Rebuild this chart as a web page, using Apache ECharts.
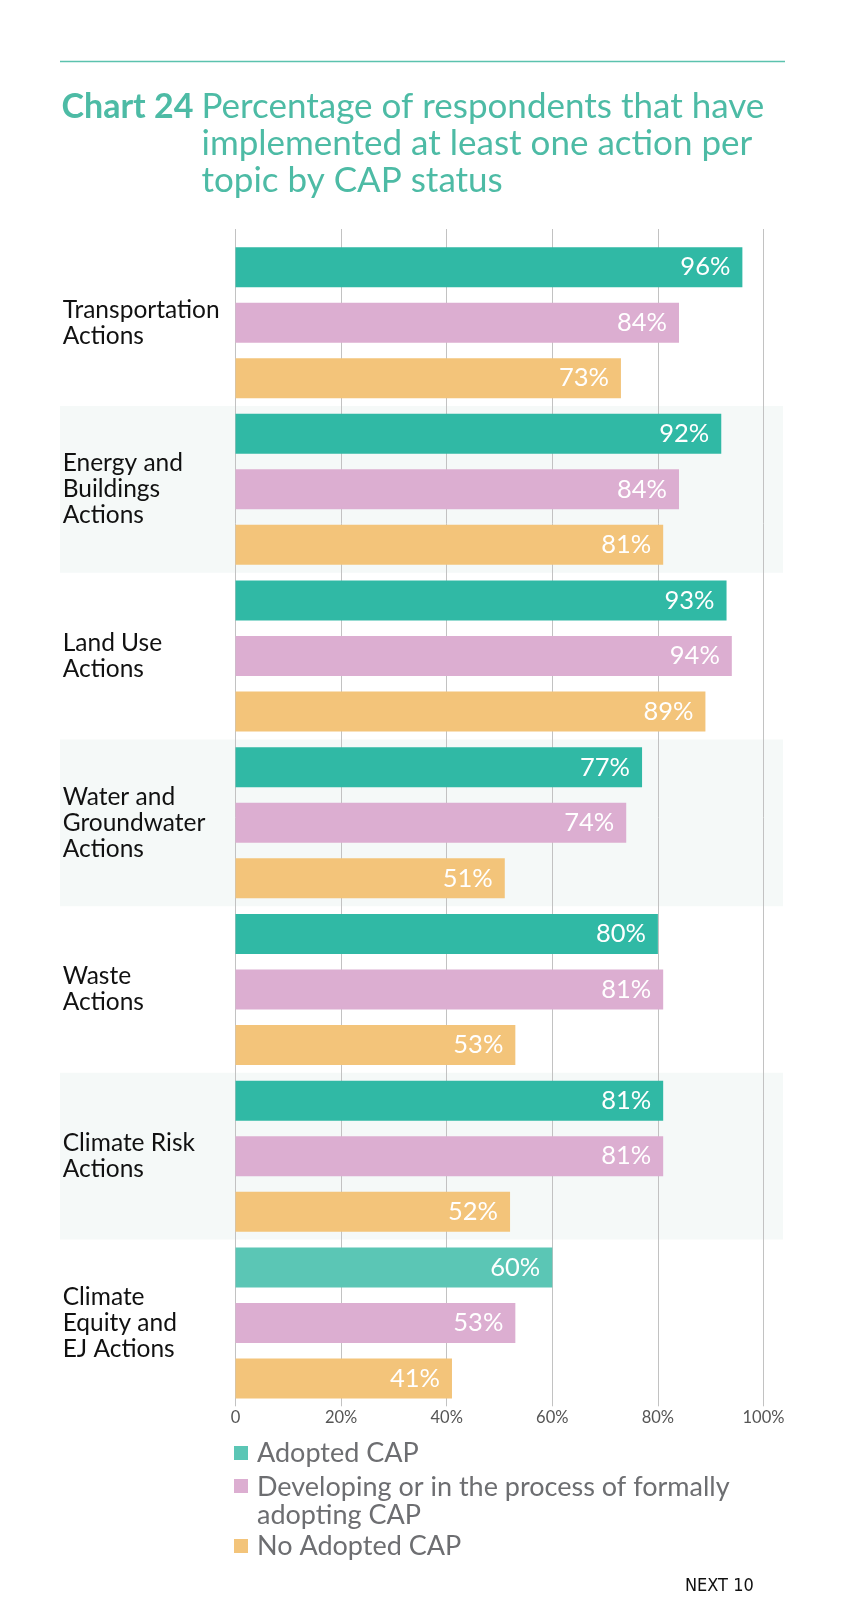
<!DOCTYPE html>
<html>
<head>
<meta charset="utf-8">
<script src="https://cdn.jsdelivr.net/npm/echarts@6/dist/echarts.min.js"></script>
<style>
html,body{margin:0;padding:0;background:#fff;}
#main{width:848px;height:1617px;}
</style>
</head>
<body>
<div id="main"></div>
<script>
// ---- data ----
const categories = [
  'Transportation\nActions',
  'Energy and\nBuildings\nActions',
  'Land Use\nActions',
  'Water and\nGroundwater\nActions',
  'Waste\nActions',
  'Climate Risk\nActions',
  'Climate\nEquity and\nEJ Actions'
];
const seriesNames = ['Adopted CAP', 'Developing or in the process of formally adopting CAP', 'No Adopted CAP'];
const legendLabels = ['Adopted CAP', 'Developing or in the process of formally\nadopting CAP', 'No Adopted CAP'];
const adoptedCAP = [96, 92, 93, 77, 80, 81, 60];
const developingCAP = [84, 84, 94, 74, 81, 81, 53];
const noAdoptedCAP = [73, 81, 89, 51, 53, 52, 41];
const xTickValues = [0, 20, 40, 60, 80, 100];
const titleLead = 'Chart 24';
const titleText = 'Percentage of respondents that have\nimplemented at least one action per\ntopic by CAP status';
const footer = 'NEXT 10';

// ---- styles ----
const colors = ['#30b9a5', '#dcaed1', '#f3c47a'];
const legendColors = ['#5bc6b5', '#dcaed1', '#f3c47a'];
const FONT = 'Lato, "Noto Sans", sans-serif';
const GL = 235.5, GW = 528, GT = 239.3, GH = 1167;

const chart = echarts.init(document.getElementById('main'), null, {renderer: 'canvas'});

function barData(vals, si) {
  return vals.map((v, i) => {
    // last teal bar drawn in lighter tint, as in the reference
    if (si === 0 && i === vals.length - 1) return {value: v, itemStyle: {color: legendColors[0]}};
    return v;
  });
}

const seriesVals = [adoptedCAP, developingCAP, noAdoptedCAP];

const option = {
  animation: false,
  backgroundColor: '#ffffff',
  grid: [
    {left: GL, top: GT, width: GW, height: GH, containLabel: false},
    {left: GL, top: 229, width: GW, height: GT + GH - 229, containLabel: false}
  ],
  xAxis: [
    {gridIndex: 0, type: 'value', min: 0, max: 100, interval: 20, show: false},
    {
      gridIndex: 1, type: 'value', min: 0, max: 100, interval: 20,
      axisLine: {show: false}, axisTick: {show: false},
      splitLine: {show: true, lineStyle: {color: '#c2c2c2', width: 1}},
      axisLabel: {
        margin: 3, color: '#555555', fontFamily: FONT, fontSize: 16.5,
        formatter: v => xTickValues.indexOf(v) === 0 ? String(v) : v + '%'
      }
    }
  ],
  yAxis: [
    {
      gridIndex: 0, type: 'category', data: categories, inverse: true,
      axisLine: {show: false}, axisTick: {show: false}, splitLine: {show: false},
      axisLabel: {
        align: 'left', margin: GL - 62.7, color: '#111111', fontFamily: FONT,
        fontSize: 24.5, lineHeight: 26
      }
    },
    {gridIndex: 1, type: 'value', min: 0, max: 1, show: false}
  ],
  series: seriesVals.map((vals, si) => ({
    name: seriesNames[si],
    type: 'bar',
    xAxisIndex: 0, yAxisIndex: 0,
    data: barData(vals, si),
    barWidth: 40,
    barGap: '38.75%',
    itemStyle: {color: colors[si]},
    label: {
      show: true, position: 'insideRight', distance: 12,
      color: '#ffffff', fontFamily: FONT, fontSize: 25.5,
      formatter: p => p.value + '%'
    }
  })),
  graphic: []
};

chart.setOption(option);

// bands & decorations positioned through the chart's own scales
const bandH = GH / categories.length;
const graphics = [];
[1, 3, 5].forEach((i, k) => {
  const cy = chart.convertToPixel({yAxisIndex: 0}, i);
  graphics.push({
    type: 'rect', id: 'band' + k, z: -10,
    shape: {x: 60, y: cy - bandH / 2, width: 723, height: bandH},
    style: {fill: '#f5f9f8'}
  });
});
graphics.push({type: 'line', id: 'rule', shape: {x1: 60, y1: 61.5, x2: 785, y2: 61.5}, style: {stroke: '#5cc2ae', lineWidth: 1.5}});
graphics.push({
  type: 'text', id: 'tlead', x: 61.5, y: 107.5,
  style: {text: titleLead, fill: '#4dbba5', font: 'bold 34px ' + FONT, textVerticalAlign: 'middle'}
});
graphics.push({
  type: 'text', id: 'ttext', x: 201.5, y: 88,
  style: {text: titleText, fill: '#4dbba5', font: '35px ' + FONT, lineHeight: 37, textVerticalAlign: 'top'}
});
// legend
const sqTops = [1446, 1479, 1539];
const txtMid = [1453.7, 1501, 1546];
legendLabels.forEach((lab, i) => {
  graphics.push({
    type: 'rect', id: 'lgsq' + i,
    shape: {x: 234, y: sqTops[i], width: 14, height: 14},
    style: {fill: legendColors[i]}
  });
  graphics.push({
    type: 'text', id: 'lgtx' + i, x: 257, y: txtMid[i],
    style: {text: lab, fill: '#6d6e71', font: '27px ' + FONT, lineHeight: 28, textVerticalAlign: 'middle'}
  });
});
graphics.push({
  type: 'text', id: 'foot', x: 685, y: 1586.5,
  style: {text: footer, fill: '#111111', font: '18px "Liberation Sans Narrow", "DejaVu Sans Condensed", sans-serif', textVerticalAlign: 'middle'}
});
chart.setOption({graphic: graphics});
</script>
</body>
</html>
